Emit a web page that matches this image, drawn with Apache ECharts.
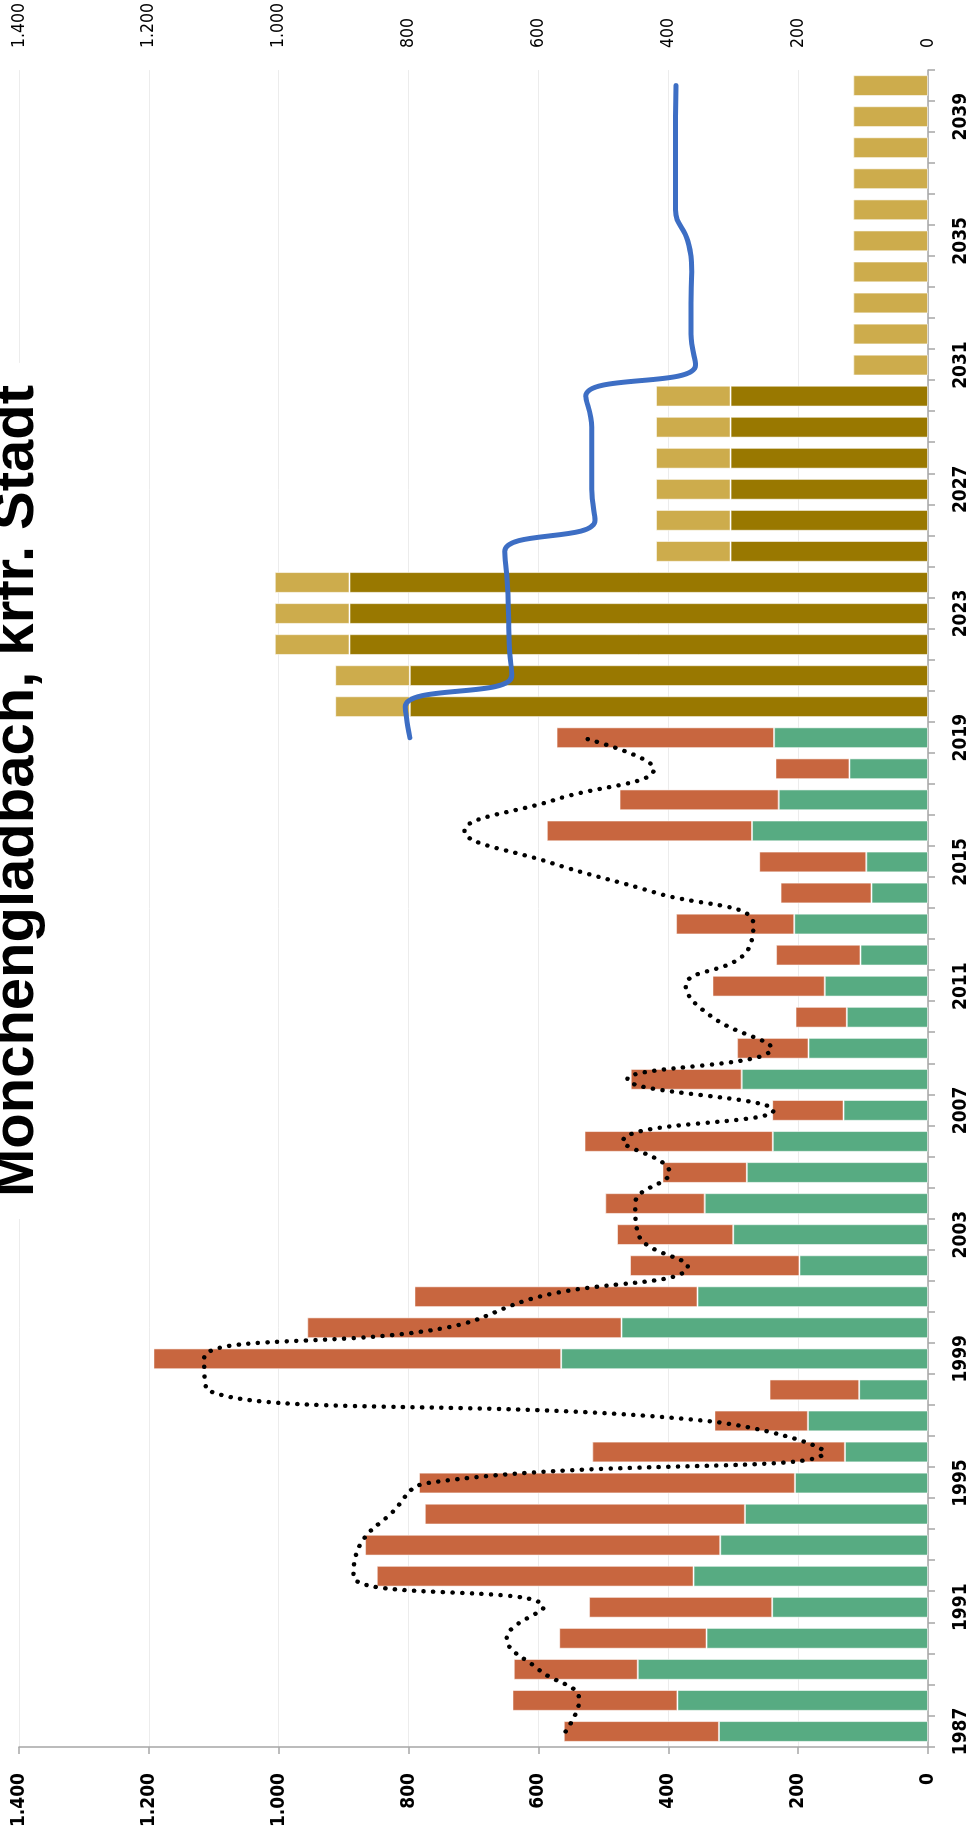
<!DOCTYPE html>
<html>
<head>
<meta charset="utf-8">
<script src="https://cdn.jsdelivr.net/npm/echarts@6/dist/echarts.min.js"></script>
<style>
  html, body { margin: 0; padding: 0; background: #fff; overflow: hidden; width: 971px; height: 1844px; }
  #chart { position: absolute; left: 0; top: 0; width: 1844px; height: 971px;
           transform-origin: 0 0; transform: translate(0px, 1844px) rotate(-90deg); }
</style>
</head>
<body>
<div id="chart"></div>
<script>
// ---- data ----
const years = ['1987','1988','1989','1990','1991','1992','1993','1994','1995','1996',
  '1997','1998','1999','2000','2001','2002','2003','2004','2005','2006','2007','2008',
  '2009','2010','2011','2012','2013','2014','2015','2016','2017','2018','2019','2020',
  '2021','2022','2023','2024','2025','2026','2027','2028','2029','2030','2031','2032',
  '2033','2034','2035','2036','2037','2038','2039','2040'];
// 1987-2019
const greenVals = [322,386,447,341,240,361,320,282,205,128,185,106,565,472,355,198,300,344,279,239,130,287,184,125,159,104,206,87,95,271,230,121,237];
const orangeVals = [239,254,191,227,282,488,547,493,579,389,144,138,628,484,436,261,179,153,130,290,110,171,110,79,173,130,182,140,165,316,245,114,335];
// 2020-2030
const darkGoldVals = [798,798,891,891,891,304,304,304,304,304,304];
// 2020-2040
const lightGoldVals = [115,115,115,115,115,115,115,115,115,115,115,115,115,115,115,115,115,115,115,115,115];
// 1987-2019
const dottedVals = [558,537,600,649,592,885,875,828,771,160,341,1110,1115,743,599,370,446,451,398,470,238,463,241,332,373,284,269,418,585,714,575,422,532];
// 2019-2040
const blueVals = [798,805,641,645,646,648,652,513,518,518,518,527,358,365,365,364,370,389,389,389,389,388];
const valueTicks = { min: 0, max: 1400, interval: 200 };
const titleText = 'Mönchengladbach, krfr. Stadt';

// ---- build padded series ----
const n = years.length;
const idx = y => years.indexOf(String(y));
function place(vals, startYear) {
  const arr = new Array(n).fill(null);
  const s = idx(startYear);
  vals.forEach((v, i) => { arr[s + i] = v; });
  return arr;
}
const green = place(greenVals, 1987);
const orange = place(orangeVals, 1987);
const darkGold = place(darkGoldVals, 2020);
const lightGold = place(lightGoldVals, 2020);
const dotted = place(dottedVals, 1987);
const blue = place(blueVals, 2019);

const fmt = v => String(v).replace(/\B(?=(\d{3})+(?!\d))/g, '.');
const labFont = "'DejaVu Sans Condensed', 'DejaVu Sans', sans-serif";
const barBorder = { borderColor: 'rgba(255,255,255,0.55)', borderWidth: 1 };

const chart = echarts.init(document.getElementById('chart'), null, { width: 1844, height: 971 });
chart.setOption({
  animation: false,
  backgroundColor: '#fff',
  title: {
    text: titleText,
    left: 625, top: -12,
    padding: [0, 22],
    backgroundColor: '#fff',
    textStyle: { fontFamily: "'Liberation Sans', Arial, sans-serif", fontWeight: 'bold', fontSize: 58, color: '#000' }
  },
  grid: { left: 97, right: 69, top: 19, bottom: 43, containLabel: false },
  xAxis: {
    type: 'category',
    data: years,
    boundaryGap: true,
    axisLine: { show: true, lineStyle: { color: '#a6a6a6', width: 1.5 } },
    axisTick: { show: true, interval: 0, length: 7, lineStyle: { color: '#a6a6a6', width: 1.5 } },
    axisLabel: { interval: 3, margin: 24, fontSize: 19, fontWeight: 'bold', color: '#000', fontFamily: labFont },
    splitLine: { show: false }
  },
  yAxis: [
    {
      type: 'value', min: valueTicks.min, max: valueTicks.max, interval: valueTicks.interval,
      axisLine: { show: true, lineStyle: { color: '#a6a6a6', width: 1.5 } },
      axisTick: { show: true, length: 7, lineStyle: { color: '#a6a6a6', width: 1.5 } },
      axisLabel: { margin: 26, fontSize: 19, fontWeight: 'bold', color: '#000', fontFamily: labFont, formatter: fmt },
      splitLine: { show: true, lineStyle: { color: '#ececec', width: 1 } }
    },
    {
      type: 'value', position: 'right', min: valueTicks.min, max: valueTicks.max, interval: valueTicks.interval,
      axisLine: { show: false }, axisTick: { show: false },
      axisLabel: { margin: 22, fontSize: 17.5, fontWeight: 'normal', color: '#000', fontFamily: labFont, formatter: fmt },
      splitLine: { show: false }
    }
  ],
  series: [
    { type: 'bar', stack: 'a', data: green, barCategoryGap: '33%', itemStyle: Object.assign({ color: '#57ab82' }, barBorder) },
    { type: 'bar', stack: 'a', data: orange, itemStyle: Object.assign({ color: '#c8663f' }, barBorder) },
    { type: 'bar', stack: 'a', data: darkGold, itemStyle: Object.assign({ color: '#997800' }, barBorder) },
    { type: 'bar', stack: 'a', data: lightGold, itemStyle: Object.assign({ color: '#cdac4c' }, barBorder) },
    { type: 'line', data: dotted, smooth: 0.45, symbol: 'none', connectNulls: false, z: 5,
      lineStyle: { color: '#000', width: 4.5, type: [0.1, 9.5], cap: 'round' } },
    { type: 'line', yAxisIndex: 1, data: blue, smooth: 0.45, symbol: 'none', z: 6,
      lineStyle: { color: '#3d6ec4', width: 5, cap: 'round' } }
  ]
});
</script>
</body>
</html>
